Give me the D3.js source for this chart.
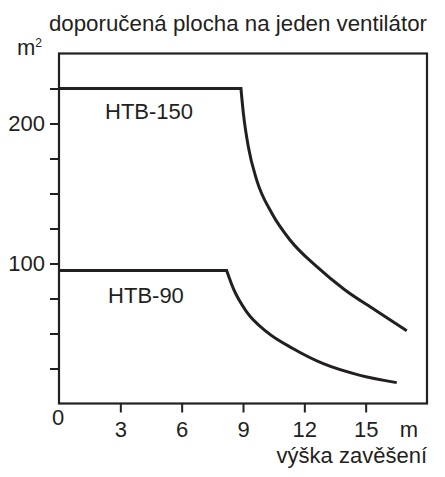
<!DOCTYPE html>
<html><head><meta charset="utf-8">
<script src="https://cdn.jsdelivr.net/npm/d3@7"></script>
<style>
html,body{margin:0;padding:0;background:#fff;}
svg{display:block;font-family:"Liberation Sans",Arial,Helvetica,sans-serif;}
</style></head>
<body>
<script>
// ---- data ----
const title = "doporučená plocha na jeden ventilátor";
const yUnit = "m";
const xUnit = "m";
const xTitle = "výška zavěšení";
const xTicks = [0, 3, 6, 9, 12, 15];
const yTickMarks = [25, 50, 75, 100, 125, 150, 175, 200, 225];
const yTickLabels = [100, 200];

const seriesNames = ["HTB-150", "HTB-90"];
// plateau (constant area) up to the corner height
const htb150Plateau = [[0, 225], [8.9, 225]];
const htb150Decline = [[8.9, 225], [9.02, 207], [9.26, 183.4], [9.67, 159.6], [10.41, 135.9], [11.3, 116.8], [12.61, 97.7], [13.99, 81.1], [15.46, 66.8], [17.01, 52]];
const htb90Plateau = [[0, 95], [8.2, 95]];
const htb90Decline = [[8.2, 95], [8.53, 82], [9.18, 65.4], [10.16, 51.1], [11.46, 39.1], [12.93, 28.4], [14.73, 20.1], [16.52, 14.9]];
const labelPos = [[2.25, 225], [2.4, 95]];

// ---- chart ----
const W = 445, H = 477;
const ink = "#231f20";
const svg = d3.select("body").append("svg").attr("width", W).attr("height", H);

const x = d3.scaleLinear().domain([0, 18]).range([59, 427]);
const y = d3.scaleLinear().domain([0, 250]).range([403.5, 53.5]);

// frame
svg.append("rect")
  .attr("x", x(0)).attr("y", y(250))
  .attr("width", x(18) - x(0)).attr("height", y(0) - y(250))
  .attr("fill", "none").attr("stroke", ink).attr("stroke-width", 2.2);

// y axis ticks
const yAxis = d3.axisLeft(y).tickValues(yTickMarks).tickSize(9).tickPadding(5)
  .tickFormat(d => yTickLabels.includes(d) ? d : "");
const gy = svg.append("g").attr("transform", `translate(${x(0)},0)`).call(yAxis);
gy.select(".domain").remove();
gy.selectAll("line").attr("stroke", ink).attr("stroke-width", 2);
gy.selectAll("text").attr("fill", ink).attr("font-size", 22).attr("font-family", "Liberation Sans, Arial, sans-serif");

// x axis ticks
const xAxis = d3.axisBottom(x).tickValues(xTicks).tickSize(9).tickPadding(9);
const gx = svg.append("g").attr("transform", `translate(0,${y(0)})`).call(xAxis);
gx.select(".domain").remove();
gx.selectAll(".tick").filter(d => d === 0).select("line").remove();
gx.selectAll("line").attr("stroke", ink).attr("stroke-width", 2);
gx.selectAll("text").attr("fill", ink).attr("font-size", 22).attr("font-family", "Liberation Sans, Arial, sans-serif");
gx.selectAll(".tick").filter(d => d === 0).select("text").attr("x", -1.5).attr("y", 6);

// curves
const lin = d3.line().x(d => x(d[0])).y(d => y(d[1]));
const crv = d3.line().x(d => x(d[0])).y(d => y(d[1])).curve(d3.curveMonotoneX);
[[htb150Plateau, htb150Decline], [htb90Plateau, htb90Decline]].forEach(([p, dcl]) => {
  const dstr = lin(p) + crv(dcl).replace(/^M/, "L");
  svg.append("path").attr("d", dstr).attr("fill", "none")
    .attr("stroke", ink).attr("stroke-width", 3).attr("stroke-linejoin", "miter");
});

// series labels
seriesNames.forEach((n, i) => {
  svg.append("text").attr("x", x(labelPos[i][0])).attr("y", y(labelPos[i][1]) + (i === 0 ? 30 : 32))
    .attr("fill", ink).attr("font-size", 22).text(n);
});

// title
svg.append("text").attr("x", 427).attr("y", 31).attr("text-anchor", "end")
  .attr("fill", ink).attr("font-size", 22.3).text(title);

// y unit m²
const yu = svg.append("text").attr("x", 17).attr("y", 55).attr("fill", ink).attr("font-size", 22);
yu.append("tspan").text(yUnit);
yu.append("tspan").attr("font-size", 12).attr("dy", -8).text("2");

// x unit and title
svg.append("text").attr("x", 409).attr("y", 437).attr("text-anchor", "middle")
  .attr("fill", ink).attr("font-size", 22).text(xUnit);
svg.append("text").attr("x", 427).attr("y", 463).attr("text-anchor", "end")
  .attr("fill", ink).attr("font-size", 22).text(xTitle);
</script>
</body></html>
